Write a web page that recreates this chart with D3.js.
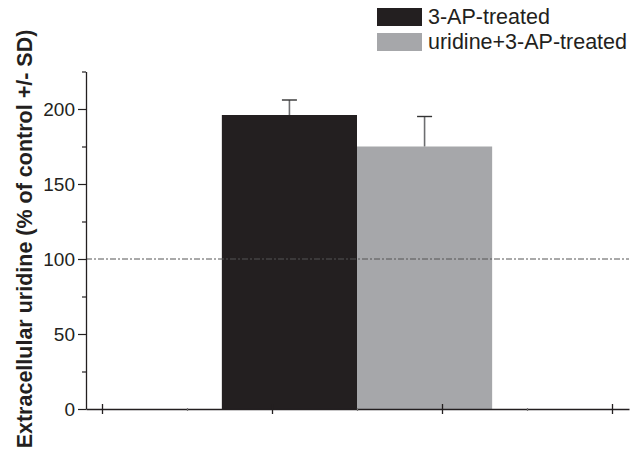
<!DOCTYPE html>
<html>
<head>
<meta charset="utf-8">
<script src="https://cdn.jsdelivr.net/npm/d3@7"></script>
<style>
  html, body { margin: 0; padding: 0; background: #fff; }
  svg { display: block; }
  text { font-family: "Liberation Sans", Arial, sans-serif; fill: #231f20; }
</style>
</head>
<body>
<svg id="chart" width="644" height="452"></svg>
<script>
// ---- data ----
const seriesNames = ["3-AP-treated", "uridine+3-AP-treated"];
const seriesValues = [196, 175];
const seriesErrors = [10, 20];
const seriesColors = ["#231f20", "#a6a7aa"];
const yTickValues = [0, 50, 100, 150, 200];
const yMinorTickValues = [25, 75, 125, 175, 225];
const xMajorTicks = [0, 1, 2, 3];
const xMinorTicks = [0.5, 1.5, 2.5];
const referenceValue = 100;
const groupCenter = 1.5;
const yLabel = "Extracellular uridine (% of control +/- SD)";

const svg = d3.select("#chart");

const y = d3.scaleLinear().domain([0, 225]).range([409, 71.5]);
const x = d3.scaleLinear().domain([0, 3]).range([102, 612]);
const xExtent = [-0.094, 3.1];
const axisX = x.copy().domain(xExtent).range([x(xExtent[0]), x(xExtent[1])]);
const xLeft = 86;

// bars
const barWidthUnits = 0.795;
const bars = svg.append("g");
seriesValues.forEach((v, i) => {
  const x0 = groupCenter + (i - 1) * barWidthUnits;
  bars.append("rect")
    .attr("x", x(x0))
    .attr("y", y(v))
    .attr("width", x(x0 + barWidthUnits) - x(x0))
    .attr("height", y(0) - y(v))
    .attr("fill", seriesColors[i]);
});

// error bars
const errs = svg.append("g");
seriesValues.forEach((v, i) => {
  const cx = x(groupCenter + (i - 0.5) * barWidthUnits);
  errs.append("line")
    .attr("x1", cx).attr("x2", cx)
    .attr("y1", y(v)).attr("y2", y(v + seriesErrors[i]))
    .attr("stroke", "#6d6e70").attr("stroke-width", 1.6);
  errs.append("line")
    .attr("x1", cx - 7.5).attr("x2", cx + 7.5)
    .attr("y1", y(v + seriesErrors[i])).attr("y2", y(v + seriesErrors[i]))
    .attr("stroke", "#333").attr("stroke-width", 1.4);
});

// reference dash-dot line
svg.append("line")
  .attr("x1", xLeft).attr("x2", axisX(xExtent[1]))
  .attr("y1", y(referenceValue)).attr("y2", y(referenceValue))
  .attr("stroke", "#555").attr("stroke-width", 1)
  .attr("stroke-dasharray", "6,2,2,2");

// y axis
const yAxisG = svg.append("g").attr("transform", `translate(${xLeft},0)`);
yAxisG.call(d3.axisLeft(y).tickValues(yTickValues).tickSizeInner(8).tickSizeOuter(0).tickPadding(3))
  .call(g => g.select(".domain").attr("stroke", "#231f20").attr("stroke-width", 1.3))
  .call(g => g.selectAll(".tick line").attr("stroke", "#231f20").attr("stroke-width", 1.2))
  .call(g => g.selectAll(".tick text").style("font-size", "19px").attr("fill", "#231f20"));
const yMinorG = svg.append("g").attr("transform", `translate(${xLeft},0)`);
yMinorG.call(d3.axisLeft(y).tickValues(yMinorTickValues).tickSizeInner(4).tickSizeOuter(0).tickFormat(""))
  .call(g => g.select(".domain").remove())
  .call(g => g.selectAll(".tick line").attr("stroke", "#231f20").attr("stroke-width", 1.2));

// x axis
const xAxisG = svg.append("g").attr("transform", `translate(0,${y(0)})`);
xAxisG.call(d3.axisBottom(axisX).tickValues(xMajorTicks).tickSizeInner(5).tickSizeOuter(0).tickFormat(""))
  .call(g => g.select(".domain").attr("stroke", "#231f20").attr("stroke-width", 1.3))
  .call(g => g.selectAll(".tick line").attr("y1", -5).attr("stroke", "#231f20").attr("stroke-width", 1.3));
const xMinorG = svg.append("g").attr("transform", `translate(0,${y(0)})`);
xMinorG.call(d3.axisBottom(axisX).tickValues(xMinorTicks).tickSizeInner(2).tickSizeOuter(0).tickFormat(""))
  .call(g => g.select(".domain").remove())
  .call(g => g.selectAll(".tick line").attr("y1", -1).attr("stroke", "#777").attr("stroke-width", 1.2));

// y label
svg.append("text")
  .attr("transform", `translate(32,239) rotate(-90)`)
  .attr("text-anchor", "middle")
  .style("font-size", "21.5px")
  .style("font-weight", "bold")
  .text(yLabel);

// legend
const legend = svg.append("g").attr("transform", "translate(377,8)");
seriesNames.forEach((name, i) => {
  const g = legend.append("g").attr("transform", `translate(0,${i * 25})`);
  g.append("rect").attr("width", 45).attr("height", 18).attr("fill", seriesColors[i]);
  g.append("text").attr("x", 51).attr("y", 16).style("font-size", "21.5px").text(name);
});
</script>
</body>
</html>
